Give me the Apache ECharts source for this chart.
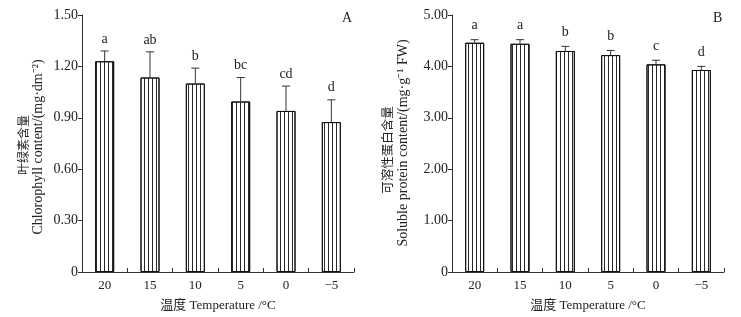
<!DOCTYPE html>
<html>
<head>
<meta charset="utf-8">
<script src="https://cdn.jsdelivr.net/npm/echarts@6/dist/echarts.min.js"></script>
<style>
  html, body { margin: 0; padding: 0; background: #fff; }
  #chart { width: 741px; height: 317px; }
</style>
</head>
<body>
<div id="chart"></div>
<script>
const temps = ['20', '15', '10', '5', '0', '−5'];

const chlValues = [1.23, 1.135, 1.10, 0.995, 0.94, 0.875];
const chlErrors = [0.06, 0.15, 0.09, 0.14, 0.145, 0.13];
const chlLetters = ['a', 'ab', 'b', 'bc', 'cd', 'd'];

const proValues = [4.46, 4.44, 4.30, 4.22, 4.04, 3.93];
const proErrors = [0.06, 0.08, 0.09, 0.09, 0.08, 0.07];
const proLetters = ['a', 'a', 'b', 'b', 'c', 'd'];

const font = 'Liberation Serif, Noto Sans CJK SC, serif';
const cjk = 'Noto Sans CJK SC, sans-serif';
const ink = '#222';

const chart = echarts.init(document.getElementById('chart'));

const stripes = {
  symbol: 'rect',
  symbolSize: 1,
  dashArrayX: [1, 3],
  dashArrayY: [4, 0],
  rotation: 0,
  color: '#2a2a2a'
};

const errorBars = (values, errors, letters) =>
  values.map((v, i) => [i, v, errors[i], letters[i]]);

// error bar going up from the bar top, with the significance letter above it
const makeRender = (gap) => (params, api) => {
  const i = api.value(0);
  const v = api.value(1);
  const e = api.value(2);
  const base = api.coord([i, v]);
  const top = api.coord([i, v + e]);
  return {
    type: 'group',
    children: [
      { type: 'line', shape: { x1: base[0], y1: base[1], x2: top[0], y2: top[1] },
        style: { stroke: '#333', lineWidth: 1 } },
      { type: 'line', shape: { x1: top[0] - 4, y1: top[1], x2: top[0] + 4, y2: top[1] },
        style: { stroke: '#333', lineWidth: 1 } },
      { type: 'text', x: top[0], y: top[1] - gap,
        style: { text: api.value(3), font: '14px ' + font, fill: ink,
                 align: 'center', verticalAlign: 'bottom' } }
    ]
  };
};

const xAxisBase = (gridIndex) => ({
  type: 'category',
  gridIndex,
  data: temps,
  name: '温度 Temperature /°C',
  nameLocation: 'middle',
  nameGap: 27,
  nameTextStyle: { fontFamily: font, fontSize: 13, color: ink },
  axisLine: { lineStyle: { color: '#333', width: 1 } },
  axisTick: { show: true, inside: true, length: 4, lineStyle: { color: '#333' } },
  axisLabel: { fontFamily: font, fontSize: 13, color: ink, margin: 7 }
});

const yAxisBase = (gridIndex, max, interval) => ({
  type: 'value',
  gridIndex,
  min: 0,
  max,
  interval,
  splitLine: { show: false },
  axisLine: { show: true, lineStyle: { color: '#333', width: 1 } },
  axisTick: { show: true, inside: false, length: 4, lineStyle: { color: '#333' } },
  axisLabel: {
    fontFamily: font, fontSize: 14, color: ink, margin: 4,
    formatter: (val) => (val === 0 ? '0' : val.toFixed(2))
  }
});

const vText = (text, x, y, family, size) => ({
  type: 'text',
  x, y,
  rotation: Math.PI / 2,
  style: { text, font: size + 'px ' + family, fill: ink, align: 'center', verticalAlign: 'middle' }
});

const option = {
  animation: false,
  backgroundColor: '#fff',
  title: [
    { text: 'A', left: 337, top: 6, textStyle: { fontFamily: font, fontSize: 14, fontWeight: 'normal', color: ink } },
    { text: 'B', left: 708, top: 6, textStyle: { fontFamily: font, fontSize: 14, fontWeight: 'normal', color: ink } }
  ],
  graphic: [
    vText('叶绿素含量', 23, 145, cjk, 12),
    vText('Chlorophyll content/(mg·dm⁻²)', 38, 147, font, 14),
    vText('可溶性蛋白含量', 387, 150, cjk, 12.5),
    vText('Soluble protein content/(mg·g⁻¹ FW)', 403, 143, font, 14)
  ],
  grid: [
    { left: 82, top: 15, width: 272, height: 257 },
    { left: 452, top: 15, width: 272, height: 257 }
  ],
  xAxis: [xAxisBase(0), xAxisBase(1)],
  yAxis: [yAxisBase(0, 1.5, 0.3), yAxisBase(1, 5, 1)],
  series: [
    {
      type: 'bar',
      xAxisIndex: 0,
      yAxisIndex: 0,
      data: chlValues,
      barWidth: 19,
      itemStyle: { color: '#fff', borderColor: '#111', borderWidth: 1, decal: stripes }
    },
    {
      type: 'custom',
      xAxisIndex: 0,
      yAxisIndex: 0,
      data: errorBars(chlValues, chlErrors, chlLetters),
      renderItem: makeRender(5),
      z: 3
    },
    {
      type: 'bar',
      xAxisIndex: 1,
      yAxisIndex: 1,
      data: proValues,
      barWidth: 19,
      itemStyle: { color: '#fff', borderColor: '#111', borderWidth: 1, decal: stripes }
    },
    {
      type: 'custom',
      xAxisIndex: 1,
      yAxisIndex: 1,
      data: errorBars(proValues, proErrors, proLetters),
      renderItem: makeRender(7),
      z: 3
    }
  ]
};

chart.setOption(option);
</script>
</body>
</html>
